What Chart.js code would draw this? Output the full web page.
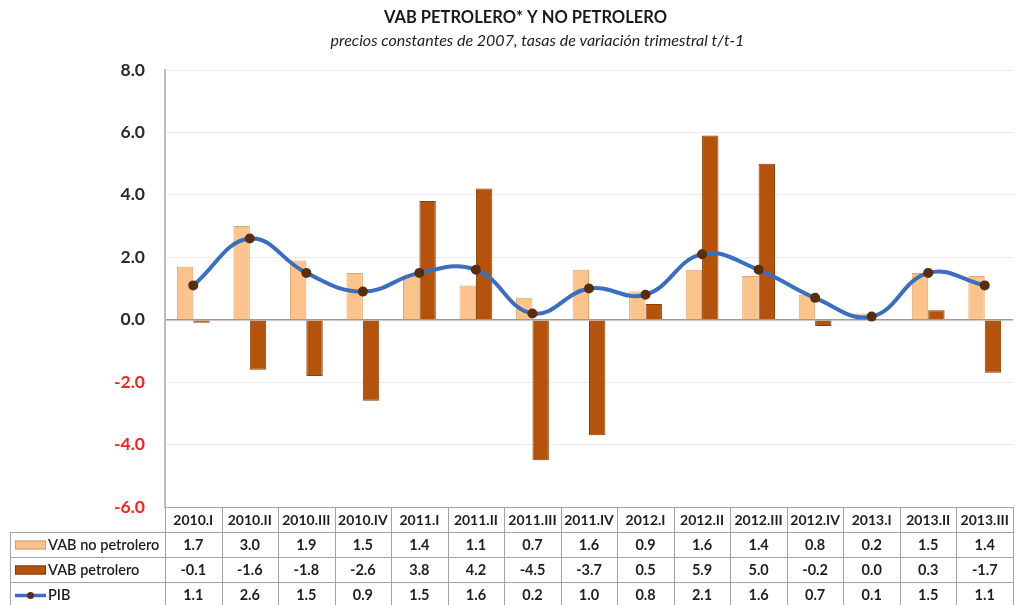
<!DOCTYPE html>
<html lang="es">
<head>
<meta charset="utf-8">
<title>VAB petrolero y no petrolero</title>
<script src="https://cdn.jsdelivr.net/npm/chart.js@4.4.1/dist/chart.umd.min.js"></script>
<style>
  html, body { margin: 0; background: #fff; }
  #wrap { width: 1021px; height: 605px; position: relative; }
</style>
</head>
<body>
<div id="wrap"><canvas id="grafico"></canvas></div>
<script>
const trimestres = ['2010.I', '2010.II', '2010.III', '2010.IV', '2011.I', '2011.II', '2011.III', '2011.IV',
                    '2012.I', '2012.II', '2012.III', '2012.IV', '2013.I', '2013.II', '2013.III'];
const vabNoPetrolero = [1.7, 3.0, 1.9, 1.5, 1.4, 1.1, 0.7, 1.6, 0.9, 1.6, 1.4, 0.8, 0.2, 1.5, 1.4];
const vabPetrolero = [-0.1, -1.6, -1.8, -2.6, 3.8, 4.2, -4.5, -3.7, 0.5, 5.9, 5.0, -0.2, 0.0, 0.3, -1.7];
const pib = [1.1, 2.6, 1.5, 0.9, 1.5, 1.6, 0.2, 1.0, 0.8, 2.1, 1.6, 0.7, 0.1, 1.5, 1.1];
const ejeY = { min: -6, max: 8, paso: 2 };

const titulo = 'VAB PETROLERO* Y NO PETROLERO';
const subtitulo = 'precios constantes de 2007, tasas de variación trimestral t/t-1';

const fuente = "Lato, 'Open Sans', sans-serif";
const colorClaro = '#FCC38D';
const colorOscuro = '#B5530C';
const colorLinea = '#3A6FBF';
const colorPunto = '#5A2E0C';

// en el original los títulos no están centrados en el lienzo, van algo a la derecha
const moverTitulos = {
  id: 'moverTitulos',
  afterLayout(chart) {
    chart.boxes.forEach((b) => {
      if (!b.options || b.options.display === false) return;
      if (b.options.text === titulo) b.left += 30;
      if (b.options.text === subtitulo) b.left += 54;
    });
  }
};

// tabla de datos bajo el eje x (usa la escala x de Chart.js)
const tablaDatos = {
  id: 'tablaDatos',
  afterDraw(chart) {
    const { ctx, chartArea } = chart;
    const x = chart.scales.x;
    const n = trimestres.length;
    const colW = (chartArea.right - chartArea.left) / n;
    const top = chartArea.bottom;
    const rowH = 25;
    const izq = 10;
    const filas = [
      { nombre: 'VAB no petrolero', datos: vabNoPetrolero, tipo: 'claro' },
      { nombre: 'VAB petrolero', datos: vabPetrolero, tipo: 'oscuro' },
      { nombre: 'PIB', datos: pib, tipo: 'linea' }
    ];
    ctx.save();
    ctx.strokeStyle = '#a3a3a3';
    ctx.lineWidth = 1;
    ctx.beginPath();
    ctx.moveTo(chartArea.left, top + 0.5);
    ctx.lineTo(chartArea.right, top + 0.5);
    for (let r = 1; r <= 4; r++) {
      const y = Math.round(top + r * rowH) + 0.5;
      ctx.moveTo(izq, y);
      ctx.lineTo(chartArea.right, y);
    }
    for (let i = 0; i <= n; i++) {
      const xx = Math.round(chartArea.left + i * colW) + 0.5;
      ctx.moveTo(xx, top);
      ctx.lineTo(xx, top + 4 * rowH);
    }
    ctx.moveTo(izq + 0.5, top + rowH);
    ctx.lineTo(izq + 0.5, top + 4 * rowH);
    ctx.stroke();

    ctx.textAlign = 'center';
    ctx.textBaseline = 'middle';
    ctx.fillStyle = '#1f1f1f';
    ctx.font = 'bold 14px ' + fuente;
    trimestres.forEach((t, i) => {
      ctx.fillText(t, x.getPixelForValue(i), top + rowH / 2 + 1);
    });

    filas.forEach((f, r) => {
      const yc = top + (r + 1) * rowH + rowH / 2 + 1;
      ctx.font = 'bold 14.5px ' + fuente;
      ctx.fillStyle = '#1f1f1f';
      ctx.textAlign = 'center';
      f.datos.forEach((v, i) => {
        ctx.fillText(v.toFixed(1), x.getPixelForValue(i), yc);
      });
      // icono de leyenda
      if (f.tipo === 'linea') {
        ctx.strokeStyle = colorLinea;
        ctx.lineWidth = 3.5;
        ctx.beginPath();
        ctx.moveTo(15, yc);
        ctx.lineTo(46, yc);
        ctx.stroke();
        ctx.fillStyle = colorPunto;
        ctx.beginPath();
        ctx.arc(30.5, yc, 3.5, 0, Math.PI * 2);
        ctx.fill();
      } else {
        ctx.fillStyle = f.tipo === 'claro' ? colorClaro : colorOscuro;
        ctx.strokeStyle = f.tipo === 'claro' ? '#D59A62' : '#7E3907';
        ctx.lineWidth = 1;
        ctx.fillRect(15, yc - 5, 31, 9);
        ctx.strokeRect(15.5, yc - 4.5, 30, 8);
      }
      ctx.fillStyle = '#1f1f1f';
      ctx.textAlign = 'left';
      ctx.font = '600 14.5px ' + fuente;
      ctx.fillText(f.nombre, 48, yc);
    });
    ctx.restore();
  }
};

const ctx = document.getElementById('grafico').getContext('2d');

const grafico = new Chart(ctx, {
  type: 'bar',
  data: {
    labels: trimestres,
    datasets: [
      {
        type: 'line',
        label: 'PIB',
        data: pib,
        borderColor: colorLinea,
        borderWidth: 4,
        tension: 0.42,
        pointRadius: 3,
        pointBackgroundColor: colorPunto,
        pointBorderColor: colorPunto,
        order: 0
      },
      {
        label: 'VAB no petrolero',
        data: vabNoPetrolero,
        backgroundColor: colorClaro,
        borderColor: '#E3A56B',
        borderWidth: 1,
        categoryPercentage: 0.58,
        barPercentage: 1.0,
        order: 1
      },
      {
        label: 'VAB petrolero',
        data: vabPetrolero,
        backgroundColor: colorOscuro,
        borderColor: '#8C4008',
        borderWidth: 1,
        categoryPercentage: 0.58,
        barPercentage: 1.0,
        order: 1
      }
    ]
  },
  options: {
    responsive: true,
    maintainAspectRatio: false,
    animation: false,
    layout: { padding: { left: 0, right: 0, top: 0, bottom: 98 } },
    plugins: {
      legend: { display: false },
      tooltip: { enabled: false },
      title: {
        display: true,
        text: titulo,
        color: '#1a1a1a',
        font: { family: fuente, size: 16.5, weight: 'bold' },
        padding: { top: 8, bottom: 3 }
      },
      subtitle: {
        display: true,
        text: subtitulo,
        color: '#222',
        font: { family: fuente, size: 16, style: 'italic' },
        padding: { top: 0, bottom: 20 }
      }
    },
    scales: {
      x: {
        display: false,
        offset: true
      },
      y: {
        min: ejeY.min,
        max: ejeY.max,
        afterFit(scale) { scale.width = 165; },
        border: { display: true, color: '#bdbdbd', width: 2 },
        grid: {
          drawTicks: false,
          color: (c) => c.tick && c.tick.value === 0 ? '#9a9a9a' : '#ececec',
          lineWidth: (c) => c.tick && c.tick.value === 0 ? 1.5 : 1
        },
        ticks: {
          stepSize: ejeY.paso,
          padding: 20,
          font: { family: fuente, size: 17.5, weight: 'bold' },
          color: (c) => c.tick.value < 0 ? '#ff2020' : '#2a2a2a',
          callback: (v) => Number(v).toFixed(1)
        }
      }
    }
  },
  plugins: [moverTitulos, tablaDatos]
});
</script>
</body>
</html>
